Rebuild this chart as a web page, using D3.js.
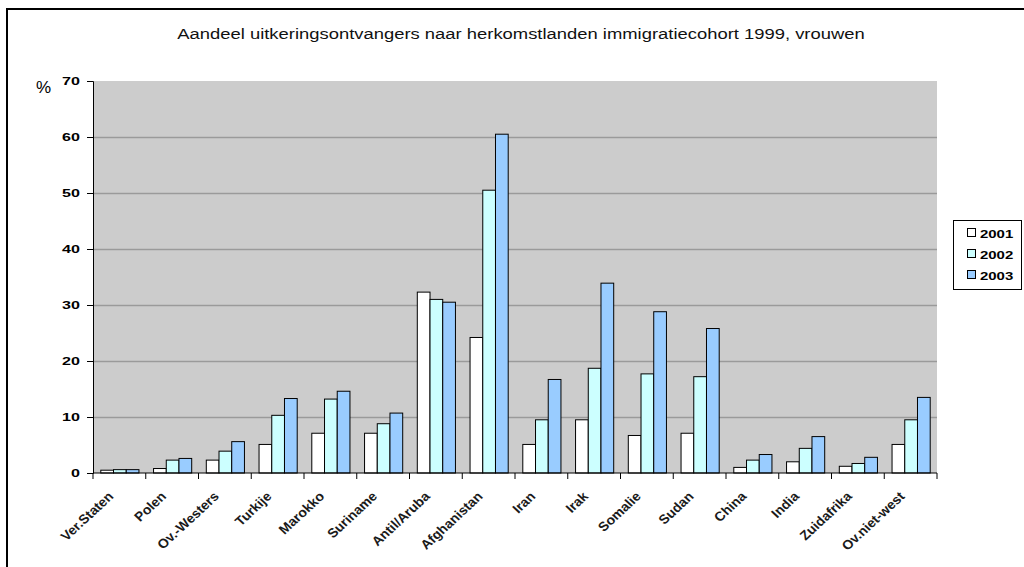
<!DOCTYPE html>
<html>
<head>
<meta charset="utf-8">
<script src="https://cdn.jsdelivr.net/npm/d3@7"></script>
<style>
  body { margin: 0; background: #fff; }
  text { font-family: "Liberation Sans", Arial, sans-serif; }
</style>
</head>
<body>
<div id="content"></div>
<script>
// Gegevens
const countries = ['Ver.Staten', 'Polen', 'Ov.-Westers', 'Turkije', 'Marokko', 'Suriname', 'Antil/Aruba',
  'Afghanistan', 'Iran', 'Irak', 'Somalie', 'Sudan', 'China', 'India', 'Zuidafrika', 'Ov.niet-west'];
const years = ['2001', '2002', '2003'];
const values2001 = [0.5, 0.8, 2.3, 5.1, 7.1, 7.1, 32.3, 24.2, 5.1, 9.5, 6.7, 7.1, 1.0, 2.0, 1.2, 5.1];
const values2002 = [0.6, 2.3, 3.9, 10.3, 13.2, 8.8, 31.0, 50.5, 9.5, 18.7, 17.7, 17.2, 2.3, 4.4, 1.7, 9.5];
const values2003 = [0.6, 2.6, 5.6, 13.3, 14.6, 10.7, 30.5, 60.5, 16.7, 33.9, 28.8, 25.8, 3.3, 6.5, 2.8, 13.5];
const yTicks = [0, 10, 20, 30, 40, 50, 60, 70];

const series = [values2001, values2002, values2003];

const width = 1024, height = 567;
const margin = { top: 81, left: 93, right: 1024 - 937, bottom: 567 - 473 };
const colors = d3.scaleOrdinal().domain(years).range(['#ffffff', '#ccffff', '#99ccff']);

const svg = d3.select('#content').append('svg')
  .attr('width', width)
  .attr('height', height);

// Kader rond de grafiek
svg.append('rect')
  .attr('x', 7).attr('y', 9)
  .attr('width', 1040).attr('height', 600)
  .attr('fill', '#fff')
  .attr('stroke', '#000')
  .attr('stroke-width', 2);

const x0 = d3.scaleBand()
  .domain(countries)
  .range([margin.left, width - margin.right])
  .padding(0);

const x1 = d3.scaleBand()
  .domain(years)
  .range([7.3, x0.bandwidth() - 7.3])
  .padding(0);

const y = d3.scaleLinear()
  .domain([0, 70])
  .range([height - margin.bottom, margin.top]);

// Plotgebied
svg.append('rect')
  .attr('x', margin.left)
  .attr('y', margin.top)
  .attr('width', width - margin.left - margin.right)
  .attr('height', height - margin.top - margin.bottom)
  .attr('fill', '#cccccc');

// Rasterlijnen
svg.append('g')
  .selectAll('line')
  .data(yTicks.filter(t => t > 0 && t < 70))
  .enter()
  .append('line')
  .attr('x1', margin.left)
  .attr('x2', width - margin.right)
  .attr('y1', d => y(d) + 0.5)
  .attr('y2', d => y(d) + 0.5)
  .attr('stroke', '#9a9a9a')
  .attr('stroke-width', 1.5);

// Staven
const groups = svg.append('g')
  .selectAll('g')
  .data(countries)
  .enter()
  .append('g')
  .attr('transform', d => `translate(${x0(d)},0)`);

groups.selectAll('rect')
  .data((d, i) => years.map((yr, j) => ({ year: yr, value: series[j][i] })))
  .enter()
  .append('rect')
  .attr('x', d => x1(d.year) + 0.5)
  .attr('y', d => y(d.value))
  .attr('width', x1.bandwidth())
  .attr('height', d => y(0) - y(d.value))
  .attr('fill', d => colors(d.year))
  .attr('stroke', '#000')
  .attr('stroke-width', 1);

// Y-as (tekst iets breder getrokken, zoals in het origineel)
const yAxis = svg.append('g')
  .attr('transform', `translate(${margin.left},0)`)
  .call(d3.axisLeft(y).tickValues(yTicks).tickSize(6));
yAxis.select('.domain').attr('stroke', '#000');
yAxis.selectAll('.tick text')
  .attr('x', 0)
  .attr('transform', 'translate(-13,0) scale(1.4,1)')
  .style('font-size', '11.5px')
  .style('font-weight', 'bold')
  .attr('fill', '#000');

svg.append('text')
  .attr('x', 36)
  .attr('y', 93)
  .style('font-size', '17px')
  .text('%');

// X-as
const xAxis = svg.append('g')
  .attr('transform', `translate(0,${y(0)})`);
xAxis.append('line')
  .attr('x1', margin.left).attr('x2', width - margin.right)
  .attr('stroke', '#000');
xAxis.selectAll('line.tk')
  .data(countries.concat(['end']))
  .enter()
  .append('line')
  .attr('class', 'tk')
  .attr('x1', (d, i) => i < countries.length ? x0(d) : width - margin.right)
  .attr('x2', (d, i) => i < countries.length ? x0(d) : width - margin.right)
  .attr('y1', 0).attr('y2', 6)
  .attr('stroke', '#000');
xAxis.selectAll('text')
  .data(countries)
  .enter()
  .append('text')
  .attr('transform', d => `translate(${x0(d) + x0.bandwidth() / 2 - 8.5},${21}) scale(1.08,1) rotate(-45)`)
  .attr('text-anchor', 'end')
  .attr('dy', '0.35em')
  .style('font-size', '13px')
  .style('font-weight', 'bold')
  .attr('fill', '#1a1a1a')
  .text(d => d);

// Titel
svg.append('text')
  .attr('transform', 'translate(521,38.5) scale(1.27,1)')
  .attr('text-anchor', 'middle')
  .style('font-size', '14.5px')
  .attr('fill', '#111')
  .text('Aandeel uitkeringsontvangers naar herkomstlanden immigratiecohort 1999, vrouwen');

// Legenda
const legend = svg.append('g');
legend.append('rect')
  .attr('x', 953.5).attr('y', 220.5)
  .attr('width', 68).attr('height', 69)
  .attr('fill', '#fff')
  .attr('stroke', '#000');
const items = legend.selectAll('g.item')
  .data(years)
  .enter()
  .append('g')
  .attr('class', 'item')
  .attr('transform', (d, i) => `translate(967,${228 + i * 21})`);
items.append('rect')
  .attr('x', 0.5).attr('y', 0.5)
  .attr('width', 8).attr('height', 8)
  .attr('fill', d => colors(d))
  .attr('stroke', '#000');
items.append('text')
  .attr('transform', 'translate(13,9.5) scale(1.3,1)')
  .style('font-size', '11.5px')
  .style('font-weight', 'bold')
  .text(d => d);
</script>
</body>
</html>
